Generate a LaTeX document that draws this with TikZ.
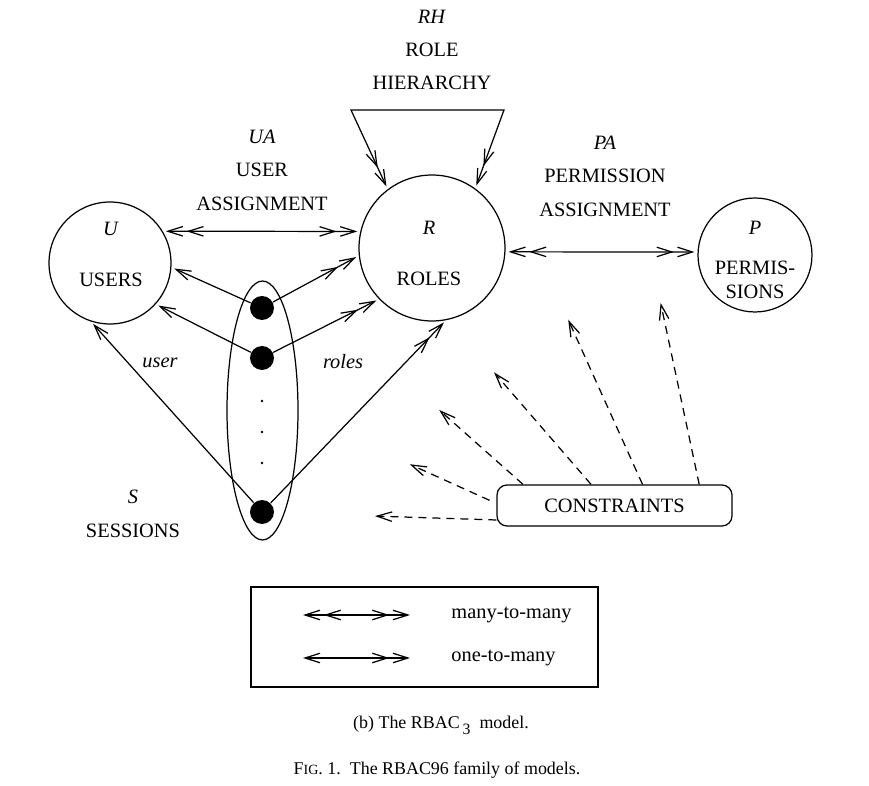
\documentclass[tikz,border=0pt]{standalone}
\usepackage{fontspec}
\setmainfont{Liberation Serif}
\usetikzlibrary{shapes.geometric, arrows.meta, positioning}

\begin{document}
\begin{tikzpicture}[
    x=0.02cm, y=-0.02cm,
    line width=0.7pt,
    >={Straight Barb[length=3mm,width=1.9mm,sep=0.6mm]},
    font=\fontsize{11.6}{14}\selectfont,
    ent/.style={draw, circle, inner sep=0pt},
    lbl/.style={align=center, font=\fontsize{11.6}{19}\selectfont},
    sdot/.style={circle, fill, inner sep=0pt, minimum size=0.48cm},
    manymany/.style={<<->>},
    onemany/.style={<->>},
    cons/.style={->, dash pattern=on 1.6mm off 1.2mm},
    capt/.style={font=\fontsize{10.2}{12}\selectfont}
]
    \useasboundingbox (0,0) rectangle (869,786);

    % entities
    \node[ent, minimum size=2.44cm] (U) at (110,263) {};
    \node[ent, minimum size=2.92cm] (R) at (432,248) {};
    \node[ent, minimum size=2.28cm] (P) at (755,255) {};
    \node[lbl] (Ut) at (111,254) {\textit{U}\\[10pt]USERS};
    \node[lbl] (Rt) at (429,253) {\textit{R}\\[10pt]ROLES};
    \node[lbl, font=\fontsize{11.6}{13.5}\selectfont] (Pt) at (755,260) {\textit{P}\\[9pt]PERMIS-\\SIONS};

    % relation labels
    \node[lbl] (RHt) at (432,50) {\textit{RH}\\ROLE\\HIERARCHY};
    \node[lbl] (UAt) at (262,170) {\textit{UA}\\USER\\ASSIGNMENT};
    \node[lbl] (PAt) at (605,176) {\textit{PA}\\PERMISSION\\ASSIGNMENT};
    \node[lbl] (St) at (133,514) {\textit{S}\\SESSIONS};

    \draw[manymany] (U.31) -- (R.167);
    \draw[manymany] (R.-3) -- (P.177);
    \coordinate (rhl) at (351,110);
    \coordinate (rhr) at (504,110);
    \draw[<<->>] (R.127) -- (rhl) -- (rhr) -- (R.54);

    % sessions
    \node[draw, ellipse, inner sep=0pt, minimum width=1.42cm, minimum height=5.18cm] (S) at (262.5,410.5) {};
    \node[sdot] (s1) at (262,308) {};
    \node[sdot] (s2) at (262,358) {};
    \node[sdot] (s3) at (262,512) {};
    \foreach \y in {401,432,463}
        \fill (262,\y) circle[radius=0.8pt];

    \draw[->] (s1) -- (U.-4);
    \draw[->] (s2) -- (U.-42);
    \draw[->] (s3) -- (U.-108);
    \draw[->>] (s1) -- (R.186);
    \draw[->>] (s2) -- (R.224);
    \draw[->>] (s3) -- (R.281);
    \node (usr) at (160,363) {\textit{user}};
    \node (rls) at (343,362) {\textit{roles}};

    % constraints
    \node[draw, rounded corners=0.2cm, minimum width=4.7cm, minimum height=0.82cm] (C) at (614.5,505.5) {CONSTRAINTS};
    \coordinate (k1) at (372,516);
    \coordinate (k2) at (407,463);
    \coordinate (k3) at (437,408);
    \coordinate (k4) at (492,370);
    \coordinate (k5) at (567,317);
    \coordinate (k6) at (660,300);
    \draw[cons] (C.187) -- (k1);
    \draw[cons, shorten <=1.5mm] (C.179) -- (k2);
    \draw[cons] (C.167) -- (k3);
    \draw[cons] (C.138) -- (k4);
    \draw[cons] (C.37) -- (k5);
    \draw[cons] (C.14) -- (k6);

    % key
    \node[draw, inner sep=0pt, minimum width=6.94cm, minimum height=2cm] (key) at (424.5,637) {};
    \coordinate (m1) at (300,615);
    \coordinate (m2) at (413,615);
    \coordinate (o1) at (300,658);
    \coordinate (o2) at (413,658);
    \draw[manymany] (m1) -- (m2);
    \draw[onemany] (o1) -- (o2);
    \node[right] (mt) at (445,615) {many-to-many};
    \node[right] (ot) at (445,658) {one-to-many};

    % captions
    \node[capt] (cap) at (441,725) {(b) The RBAC\,\raisebox{-0.7ex}{\fontsize{9}{10}\selectfont 3}\ \ model.};
    \node[capt] (fig) at (437,770) {F{\fontsize{8}{10}\selectfont IG}. 1.\ \ The RBAC96 family of models.};
\end{tikzpicture}
\end{document}
